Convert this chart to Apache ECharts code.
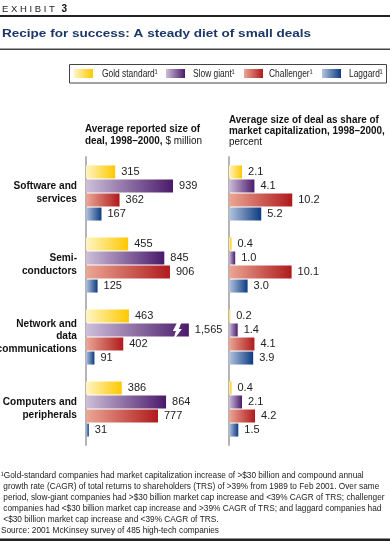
<!DOCTYPE html>
<html><head><meta charset="utf-8">
<script src="https://cdn.jsdelivr.net/npm/echarts@6/dist/echarts.min.js"></script>
<style>html,body{margin:0;padding:0;background:#fff}#c{width:390px;height:543px}</style>
</head><body><div id="c"></div>
<script>
// ---- data ----
const categories = ['Software and\nservices', 'Semi-\nconductors', 'Network and\ndata\ncommunications', 'Computers and\nperipherals'];
const seriesNames = ['Gold standard¹', 'Slow giant¹', 'Challenger¹', 'Laggard¹'];
const goldDeal = [315, 455, 463, 386];
const slowDeal = [939, 845, 1565, 864];
const challDeal = [362, 906, 402, 777];
const lagDeal = [167, 125, 91, 31];
const goldShare = [2.1, 0.4, 0.2, 0.4];
const slowShare = [4.1, 1.0, 1.4, 2.1];
const challShare = [10.2, 10.1, 4.1, 4.2];
const lagShare = [5.2, 3.0, 3.9, 1.5];
const dealBreakCap = 1110; // drawn length of the broken (off-scale) bar
const footnoteLines = [
  '¹Gold-standard companies had market capitalization increase of >$30 billion and compound annual',
  ' growth rate (CAGR) of total returns to shareholders (TRS) of >39% from 1989 to Feb 2001. Over same',
  ' period, slow-giant companies had >$30 billion market cap increase and <39% CAGR of TRS; challenger',
  ' companies had <$30 billion market cap increase and >39% CAGR of TRS; and laggard companies had',
  ' <$30 billion market cap increase and <39% CAGR of TRS.',
  'Source: 2001 McKinsey survey of 485 high-tech companies'
];

const FONT = '"Liberation Sans", Arial, Helvetica, sans-serif';
const G = echarts.graphic.LinearGradient;
const stops = [
  ['#fff5c4', '#ffc800'],
  ['#cdbfd9', '#4a1a6b'],
  ['#eba795', '#b01a1c'],
  ['#b3c4de', '#0c3b82']
];
const colors = stops.map(s => new G(0, 0, 1, 0, [{offset: 0, color: s[0]}, {offset: 1, color: s[1]}]));

const dealSets = [goldDeal, slowDeal, challDeal, lagDeal];
const shareSets = [goldShare, slowShare, challShare, lagShare];

function labelStyle(fmt) {
  return {show: true, position: 'right', distance: 6, fontFamily: FONT, fontSize: 11, color: '#222', formatter: fmt};
}
const series = [];
dealSets.forEach((arr, i) => {
  series.push({
    type: 'bar', name: seriesNames[i], xAxisIndex: 0, yAxisIndex: 0,
    barWidth: 13, barGap: '8%', itemStyle: {color: colors[i]},
    data: arr.map(v => ({value: Math.min(v, dealBreakCap), actual: v})),
    label: labelStyle(p => p.data.actual.toLocaleString('en-US'))
  });
});
shareSets.forEach((arr, i) => {
  series.push({
    type: 'bar', name: seriesNames[i], xAxisIndex: 1, yAxisIndex: 1,
    barWidth: 13, barGap: '8%', itemStyle: {color: colors[i]},
    data: arr.slice(),
    label: labelStyle(p => p.value.toFixed(1))
  });
});

const yBase = {
  type: 'category', data: categories, inverse: true,
  axisTick: {show: false}, axisLabel: {show: false},
  axisLine: {show: true, lineStyle: {color: '#b4b4b4', width: 2}},
  splitLine: {show: false}
};

const chart = echarts.init(document.getElementById('c'), null, {renderer: 'canvas'});

// header, titles, legend, footnotes (decoration)
const graphics = [
  {type: 'text', x: 2, y: 3, style: {text: '{a|E X H I B I T}  {b|3}', rich: {a: {fontFamily: FONT, fontSize: 9.5, fill: '#222'}, b: {fontFamily: FONT, fontSize: 10, fontWeight: 'bold', fill: '#111'}}}},
  {type: 'rect', shape: {x: 0, y: 15, width: 390, height: 2}, style: {fill: '#222'}},
  {type: 'text', x: 2, y: 34, scaleX: 1.23, style: {text: 'Recipe for success: A steady diet of small deals', fontFamily: FONT, fontSize: 11, fontWeight: 'bold', fill: '#1b3768', verticalAlign: 'middle'}},
  {type: 'rect', shape: {x: 0, y: 48.5, width: 390, height: 1.5}, style: {fill: '#444'}},
  {type: 'text', x: 85, y: 123.5, scaleX: 0.9, style: {text: '{b|Average reported size of}\n{b|deal, 1998–2000,} {r|$ million}', rich: {b: {fontFamily: FONT, fontSize: 11, fontWeight: 'bold', fill: '#111', lineHeight: 11}, r: {fontFamily: FONT, fontSize: 11, fill: '#111', lineHeight: 11}}}},
  {type: 'text', x: 229, y: 114.5, scaleX: 0.9, style: {text: '{b|Average size of deal as share of}\n{b|market capitalization, 1998–2000,}\n{r|percent}', rich: {b: {fontFamily: FONT, fontSize: 11, fontWeight: 'bold', fill: '#111', lineHeight: 11}, r: {fontFamily: FONT, fontSize: 11, fill: '#111', lineHeight: 11}}}},
  {type: 'text', x: 1, y: 470, scaleX: 0.89, style: {text: footnoteLines.join('\n'), fontFamily: FONT, fontSize: 9.3, lineHeight: 10.9, fill: '#222'}},
  {type: 'rect', shape: {x: 0, y: 538.5, width: 390, height: 2.5}, style: {fill: '#222'}},
  // legend box
  {type: 'rect', shape: {x: 69.5, y: 64.5, width: 317, height: 18.5}, style: {fill: 'none', stroke: '#444', lineWidth: 1}}
];
const legendSwatchX = [74, 166, 244, 322];
const legendTextX = [102, 193, 269, 349];
seriesNames.forEach((n, i) => {
  graphics.push({type: 'rect', shape: {x: legendSwatchX[i], y: 69, width: 19, height: 9}, style: {fill: new G(0, 0, 1, 0, [{offset: 0, color: stops[i][0]}, {offset: 1, color: stops[i][1]}])}});
  graphics.push({type: 'text', x: legendTextX[i], y: 74, scaleX: 0.8, style: {text: n, fontFamily: FONT, fontSize: 10.5, fill: '#222', verticalAlign: 'middle'}});
});

chart.setOption({
  animation: false,
  textStyle: {fontFamily: FONT},
  grid: [
    {left: 86, top: 157, width: 111.2, height: 288, containLabel: false, outerBoundsMode: 'none'},
    {left: 229, top: 157, width: 124, height: 288, containLabel: false, outerBoundsMode: 'none'}
  ],
  xAxis: [
    {gridIndex: 0, type: 'value', min: 0, max: 1200, show: false},
    {gridIndex: 1, type: 'value', min: 0, max: 20, show: false}
  ],
  yAxis: [
    Object.assign({}, yBase, {gridIndex: 0}),
    Object.assign({}, yBase, {gridIndex: 1})
  ],
  series: series,
  graphic: graphics
});

// category labels placed through the category axis, condensed like the original
const extra = [];
categories.forEach((c, k) => {
  const p = chart.convertToPixel({xAxisIndex: 0, yAxisIndex: 0}, [0, k]);
  const lines = c.split('\n').length;
  extra.push({type: 'text', x: p[0] - 9, y: p[1] - 1, scaleX: 0.88, style: {text: c, fontFamily: FONT, fontSize: 11.5, fontWeight: 'bold', lineHeight: lines > 2 ? 12.5 : 13, fill: '#111', align: 'right', verticalAlign: 'middle'}});
});
// break symbol on the off-scale bar, positioned from the bar's own layout
dealSets[1].forEach((v, k) => {
  if (v <= dealBreakCap) return;
  const layout = chart.getModel().getSeriesByIndex(1).getData().getItemLayout(k);
  const cx = layout.x + layout.width - 12, cy = layout.y + layout.height / 2;
  const pts = [[2, -11], [6, -11], [2, -1], [5, -1], [-4, 11], [-1, 1], [-4, 1]].map(q => [cx + q[0], cy + q[1]]);
  extra.push({type: 'polygon', shape: {points: pts}, style: {fill: '#fff'}, z: 100});
});
chart.setOption({graphic: graphics.concat(extra)});
</script></body></html>
